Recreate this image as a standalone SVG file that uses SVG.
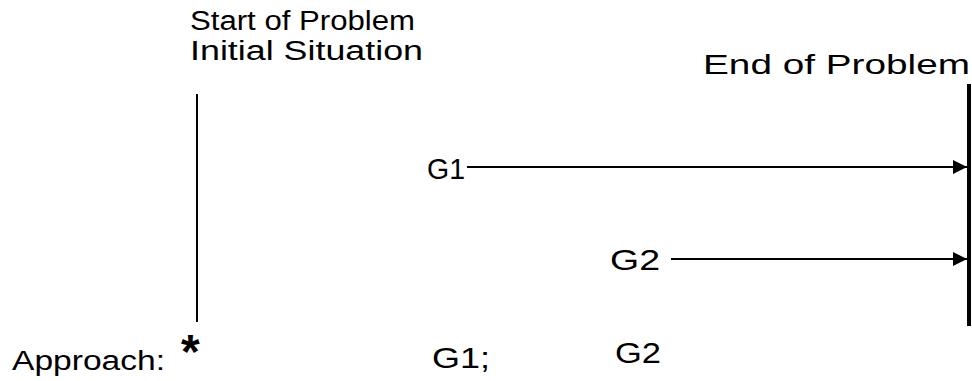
<svg xmlns="http://www.w3.org/2000/svg" width="972" height="381" viewBox="0 0 972 381">
<defs>
<style>
text{font-family:"Liberation Sans","DejaVu Sans",sans-serif;fill:#000}
.lbl{font-size:27px}
.g{font-size:30px}
.ln{stroke:#000;stroke-width:2;fill:none}
</style>
<marker id="ah" viewBox="0 0 10 10" refX="10" refY="5" markerWidth="16" markerHeight="14" markerUnits="userSpaceOnUse" orient="auto">
<path d="M0,0 L10,5 L0,10 Z" fill="#000"/>
</marker>
</defs>
<rect width="972" height="381" fill="#fff"/>
<g id="start">
<text class="lbl" x="190" y="30" textLength="225" lengthAdjust="spacingAndGlyphs">Start of Problem</text>
<text class="lbl" x="190" y="60" textLength="233" lengthAdjust="spacingAndGlyphs">Initial Situation</text>
<line class="ln" x1="197" y1="94" x2="197" y2="322"/>
</g>
<g id="end">
<text class="lbl" x="703" y="74" textLength="267" lengthAdjust="spacingAndGlyphs">End of Problem</text>
<line x1="969" y1="84" x2="969" y2="326" stroke="#000" stroke-width="4"/>
</g>
<g id="g1">
<text class="g" x="427" y="179" textLength="38" lengthAdjust="spacingAndGlyphs">G1</text>
</g>
<g id="g2">
<text class="g" x="610" y="270" textLength="50" lengthAdjust="spacingAndGlyphs">G2</text>
</g>
<g id="approach">
<text class="lbl" x="12" y="370" textLength="153" lengthAdjust="spacingAndGlyphs">Approach:</text>
<text x="181" y="368" font-size="48" font-weight="bold">*</text>
<text class="g" x="432" y="368" textLength="58" lengthAdjust="spacingAndGlyphs">G1;</text>
<text class="g" x="615" y="363" textLength="46" lengthAdjust="spacingAndGlyphs">G2</text>
</g>
<g id="connectors">
<line class="ln" x1="467" y1="167" x2="967" y2="167" marker-end="url(#ah)"/>
<line class="ln" x1="671" y1="259" x2="967" y2="259" marker-end="url(#ah)"/>
</g>
</svg>
